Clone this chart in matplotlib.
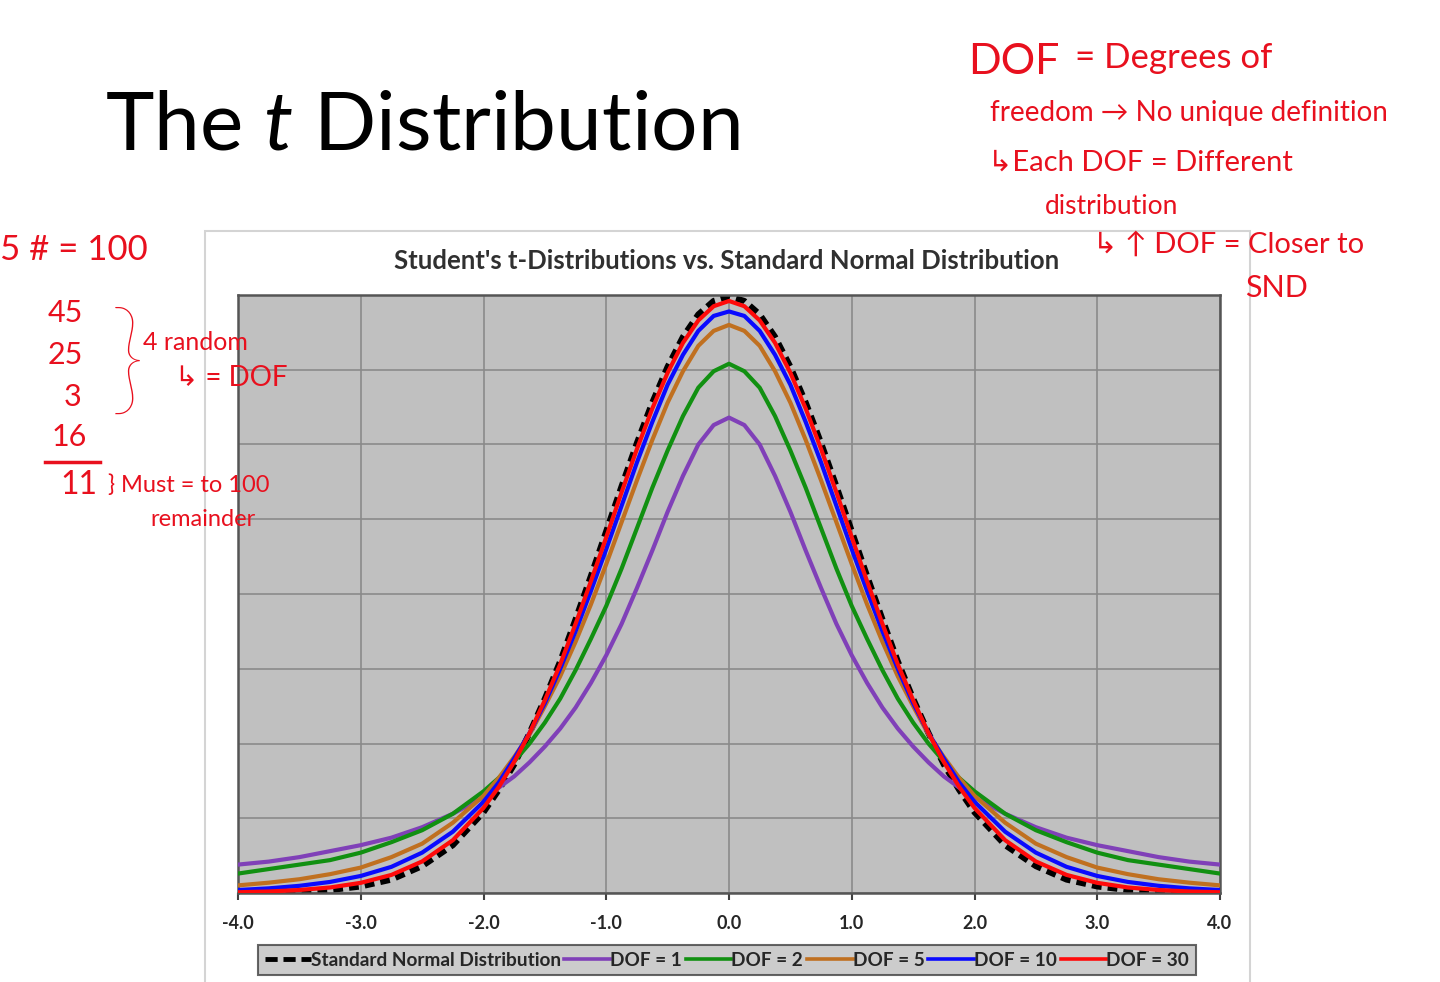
import matplotlib.pyplot as plt
import matplotlib.patches as mpatches
from matplotlib.lines import Line2D

plt.rcParams['font.family'] = ['Lato', 'DejaVu Sans']
plt.rcParams['mathtext.fontset'] = 'custom'
plt.rcParams['mathtext.rm'] = 'Lato'
plt.rcParams['mathtext.it'] = 'Lato:italic'

# x positions read along the axis (-4.0 .. 4.0), denser in the middle
x_vals = [-4.0, -3.75, -3.5, -3.25, -3.0, -2.75, -2.5, -2.25,
          -2.0, -1.875, -1.75, -1.625, -1.5, -1.375, -1.25, -1.125,
          -1.0, -0.875, -0.75, -0.625, -0.5, -0.375, -0.25, -0.125,
          0.0,
          0.125, 0.25, 0.375, 0.5, 0.625, 0.75, 0.875, 1.0,
          1.125, 1.25, 1.375, 1.5, 1.625, 1.75, 1.875, 2.0,
          2.25, 2.5, 2.75, 3.0, 3.25, 3.5, 3.75, 4.0]

# heights
normal = [0.0001, 0.0004, 0.0009, 0.002, 0.0044, 0.009, 0.018, 0.032,
          0.054, 0.069, 0.086, 0.107, 0.130, 0.155, 0.183, 0.212,
          0.242, 0.272, 0.301, 0.328, 0.352, 0.372, 0.387, 0.396,
          0.399,
          0.396, 0.387, 0.372, 0.352, 0.328, 0.301, 0.272, 0.242,
          0.212, 0.183, 0.155, 0.130, 0.107, 0.086, 0.069, 0.054,
          0.032, 0.018, 0.009, 0.0044, 0.002, 0.0009, 0.0004, 0.0001]
dof1 = [0.019, 0.021, 0.024, 0.028, 0.032, 0.037, 0.044, 0.053,
        0.064, 0.0705, 0.078, 0.0874, 0.098, 0.110, 0.124, 0.1405,
        0.159, 0.180, 0.204, 0.229, 0.255, 0.279, 0.300, 0.313,
        0.318,
        0.313, 0.300, 0.279, 0.255, 0.229, 0.204, 0.180, 0.159,
        0.1405, 0.124, 0.110, 0.098, 0.0874, 0.078, 0.0705, 0.064,
        0.053, 0.044, 0.037, 0.032, 0.028, 0.024, 0.021, 0.019]
dof2 = [0.013, 0.016, 0.019, 0.022, 0.027, 0.034, 0.042, 0.053,
        0.068, 0.077, 0.088, 0.100, 0.114, 0.130, 0.149, 0.170,
        0.192, 0.217, 0.244, 0.271, 0.296, 0.319, 0.338, 0.349,
        0.354,
        0.349, 0.338, 0.319, 0.296, 0.271, 0.244, 0.217, 0.192,
        0.170, 0.149, 0.130, 0.114, 0.100, 0.088, 0.077, 0.068,
        0.053, 0.042, 0.034, 0.027, 0.022, 0.019, 0.016, 0.013]
dof5 = [0.0051, 0.0069, 0.0092, 0.0126, 0.017, 0.024, 0.033, 0.047,
        0.065, 0.077, 0.091, 0.106, 0.125, 0.145, 0.168, 0.193,
        0.220, 0.248, 0.276, 0.303, 0.328, 0.349, 0.366, 0.376,
        0.380,
        0.376, 0.366, 0.349, 0.328, 0.303, 0.276, 0.248, 0.220,
        0.193, 0.168, 0.145, 0.125, 0.106, 0.091, 0.077, 0.065,
        0.047, 0.033, 0.024, 0.017, 0.0126, 0.0092, 0.0069, 0.0051]
dof10 = [0.002, 0.0031, 0.0048, 0.0074, 0.0114, 0.0175, 0.027, 0.041,
         0.061, 0.074, 0.090, 0.107, 0.127, 0.150, 0.175, 0.202,
         0.230, 0.259, 0.288, 0.315, 0.340, 0.360, 0.376, 0.386,
         0.389,
         0.386, 0.376, 0.360, 0.340, 0.315, 0.288, 0.259, 0.230,
         0.202, 0.175, 0.150, 0.127, 0.107, 0.090, 0.074, 0.061,
         0.041, 0.027, 0.0175, 0.0114, 0.0074, 0.0048, 0.0031, 0.002]
dof30 = [0.0005, 0.001, 0.002, 0.0037, 0.0068, 0.0121, 0.0211, 0.0353,
         0.0569, 0.071, 0.0877, 0.107, 0.129, 0.153, 0.180, 0.2085,
         0.238, 0.268, 0.297, 0.324, 0.348, 0.368, 0.383, 0.3925,
         0.396,
         0.3925, 0.383, 0.368, 0.348, 0.324, 0.297, 0.268, 0.238,
         0.2085, 0.180, 0.153, 0.129, 0.107, 0.0877, 0.071, 0.0569,
         0.0353, 0.0211, 0.0121, 0.0068, 0.0037, 0.002, 0.001, 0.0005]

series_labels = ['Standard Normal Distribution', 'DOF = 1', 'DOF = 2',
                 'DOF = 5', 'DOF = 10', 'DOF = 30']
x_ticks = [-4.0, -3.0, -2.0, -1.0, 0.0, 1.0, 2.0, 3.0, 4.0]

W, H = 1440, 982
fig = plt.figure(figsize=(W / 100, H / 100), dpi=100)

# white chart frame (runs off the bottom of the slide)
frame = mpatches.Rectangle((205 / W, -0.05), 1045 / W, 1.05 - 231 / H,
                           transform=fig.transFigure, facecolor='white',
                           edgecolor='#d4d4d4', lw=1.5, zorder=-5)
fig.add_artist(frame)

ax = fig.add_axes([238 / W, 1 - 893 / H, (1220 - 238) / W, (893 - 295) / H])
ax.set_zorder(1)
ax.set_facecolor('#c0c0c0')

colors = ['black', '#8040b8', '#119011', '#c07020', '#0a0aff', '#ff0a0a']
all_y = [normal, dof1, dof2, dof5, dof10, dof30]
for i, (yv, lab, c) in enumerate(zip(all_y, series_labels, colors)):
    if i == 0:
        ax.plot(x_vals, yv, color=c, lw=4.4, ls=(0, (1.6, 1.0)), label=lab, zorder=2)
    else:
        ax.plot(x_vals, yv, color=c, lw=3.0, label=lab, zorder=2 + i,
                solid_joinstyle='round')

ax.set_xlim(-4, 4)
ax.set_ylim(0, 0.4)
ax.set_xticks(x_ticks)
ax.set_xticklabels(['%.1f' % t for t in x_ticks], fontsize=13, fontweight='bold',
                   color='#262626')
ax.set_yticks([0.05 * k for k in range(9)])
ax.set_yticklabels([])
ax.tick_params(axis='y', length=0)
ax.tick_params(axis='x', length=5, width=1.5, color='#404040', pad=11)
ax.grid(True, color='#8a8a8a', lw=1.2)
ax.set_axisbelow(True)
for s in ax.spines.values():
    s.set_color('#555555')
    s.set_linewidth(1.8)

fig.text(727 / W, 1 - 261 / H, "Student's t-Distributions vs. Standard Normal Distribution",
         ha='center', va='center', fontsize=18.5, fontweight='bold', color='#303030')

handles = [Line2D([], [], color='black', lw=3.5, ls=(0, (2.5, 1.2)))]
handles += [Line2D([], [], color=c, lw=2.6) for c in colors[1:]]
leg = fig.legend(handles, series_labels, loc='center', ncol=6,
                 bbox_to_anchor=(727 / W, 1 - 960 / H), fontsize=13.7,
                 handlelength=2.4, handletextpad=0.0, columnspacing=0.2,
                 borderpad=0.35, fancybox=False, frameon=True)
leg.get_frame().set_facecolor('#c0c0c0')
leg.get_frame().set_edgecolor('#404040')
leg.get_frame().set_linewidth(1.5)
for t in leg.get_texts():
    t.set_fontweight('bold')
    t.set_color('#262626')

# slide title
fig.text(105 / W, 1 - 150 / H, r'The $\mathit{t}$ Distribution', ha='left',
         va='baseline', fontsize=59, color='black')

# handwritten notes
red = '#e8101e'
notes = [
    (968, 62, 'DOF', 31),
    (1075, 58, '= Degrees of', 25),
    (990, 113, 'freedom \u2192 No unique definition', 20),
    (988, 163, '\u21b3Each DOF = Different', 21),
    (1045, 207, 'distribution', 19),
    (1093, 245, '\u21b3 \u2191 DOF = Closer to', 21),
    (1245, 288, 'SND', 22),
    (0, 250, '5 # = 100', 25),
    (48, 313, '45', 22),
    (48, 355, '25', 22),
    (64, 397, '3', 22),
    (52, 437, '16', 22),
    (60, 485, '11', 23),
    (143, 343, '4 random', 18),
    (175, 378, '\u21b3 = DOF', 20),
    (108, 485, '} Must = to 100', 17),
    (150, 520, 'remainder', 17),
]
for nx, ny, txt, fs in notes:
    fig.text(nx / W, 1 - ny / H, txt, ha='left', va='center', fontsize=fs,
             color=red, zorder=5)
fig.text(110 / W, 1 - 366 / H, '}', ha='left', va='center', fontsize=88,
         color=red, fontweight='light', zorder=5)
fig.add_artist(Line2D([45 / W, 100 / W], [1 - 462 / H, 1 - 462 / H], color=red, lw=2.5))

fig.savefig('out.png', dpi=100)
